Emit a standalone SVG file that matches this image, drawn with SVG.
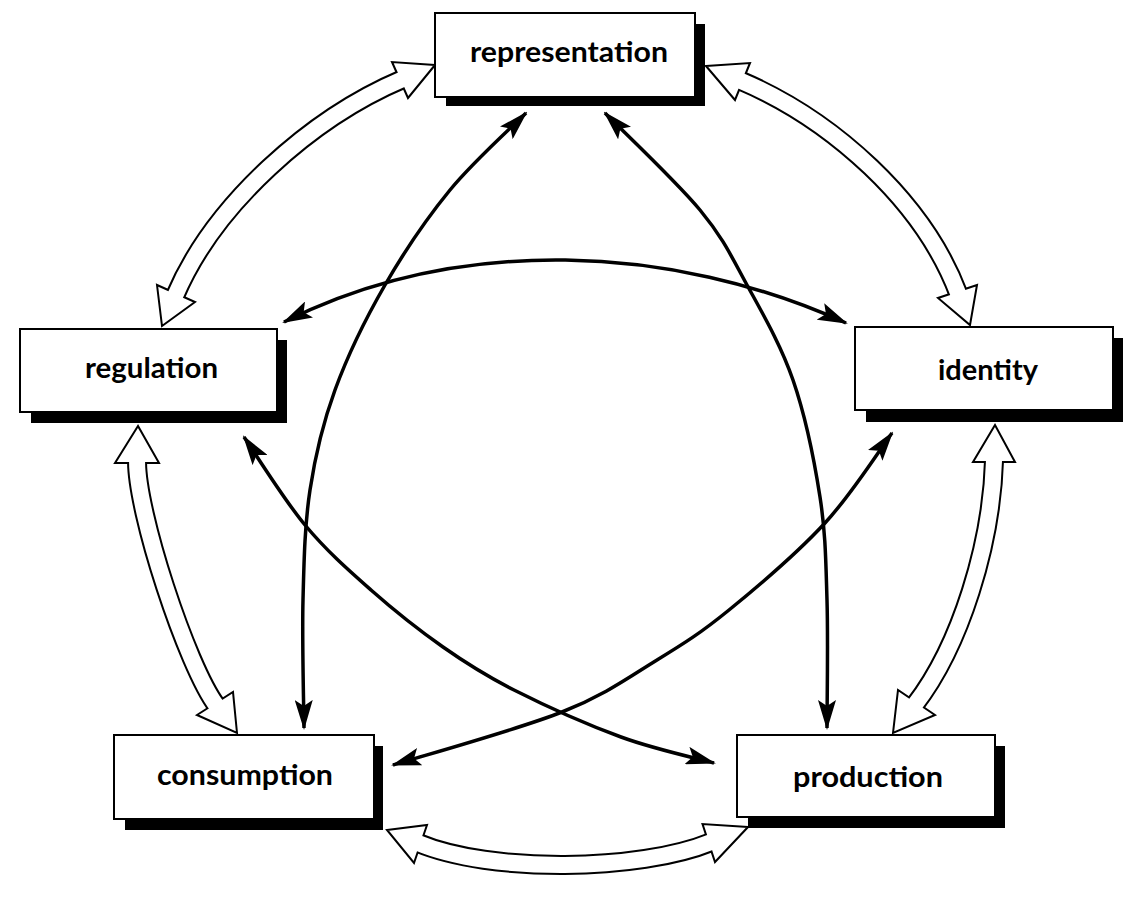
<svg xmlns="http://www.w3.org/2000/svg" width="1134" height="902" viewBox="0 0 1134 902">
<style>
.bg{fill:#fff}
.box{fill:#fff;stroke:#000;stroke-width:2}
.shadow{fill:#000}
.label{font-family:Lato,"Open Sans","Liberation Sans",sans-serif;font-weight:700;font-size:28px;fill:#000}
.conn{fill:none;stroke:#000;stroke-width:3.5;marker-start:url(#ah);marker-end:url(#ah)}
.bo{fill:none;stroke:#000;stroke-width:20}
.bi{fill:none;stroke:#fff;stroke-width:16}
.head{fill:#fff;stroke:#000;stroke-width:2;stroke-linejoin:miter}
</style>
<defs>
<marker id="ah" viewBox="0 0 30 18" markerWidth="30" markerHeight="18" markerUnits="userSpaceOnUse" refX="28" refY="9" orient="auto-start-reverse">
<path d="M0,0 L30,9 L0,18 L6,9 z" fill="#000"/>
</marker>
</defs>
<rect class="bg" x="0" y="0" width="1134" height="902"/>
<g id="connectors">
<g id="hollow-rep-reg">
<path class="bo" d="M403,79 C311,118 214,204 175,296"/>
<polygon class="head" points="435,65 392,62 408,98"/>
<polygon class="head" points="162,326 157,285 195,302"/>
<path class="bi" d="M403,79 C311,118 214,204 175,296"/>
</g>
<g id="hollow-rep-id">
<path class="bo" d="M739.7,80.3 C831.7,119.3 923.5,200.7 958.5,294.3"/>
<polygon class="head" points="706,66 750,63 735,100"/>
<polygon class="head" points="970,325 977,285 938,298"/>
<path class="bi" d="M739.7,80.3 C831.7,119.3 923.5,200.7 958.5,294.3"/>
</g>
<g id="hollow-reg-cons">
<path class="bo" d="M137.1,460 C135.7,510 186.9,666.3 216.8,705.9"/>
<polygon class="head" points="138,426 115,463 159,463"/>
<polygon class="head" points="237,733 233,692 197,715"/>
<path class="bi" d="M137.1,460 C135.7,510 186.9,666.3 216.8,705.9"/>
</g>
<g id="hollow-id-prod">
<path class="bo" d="M994.1,459 C991.7,544 960.5,645.6 914.7,704.9"/>
<polygon class="head" points="995,425 973,462 1015,462"/>
<polygon class="head" points="893,733 898,690 935,715"/>
<path class="bi" d="M994.1,459 C991.7,544 960.5,645.6 914.7,704.9"/>
</g>
<g id="hollow-cons-prod">
<path class="bo" d="M417.7,842.8 C490.6,873.3 638.4,871.8 711.6,841.9"/>
<polygon class="head" points="387,830 427,825 414,863"/>
<polygon class="head" points="748,827 702.5,824 715,862"/>
<path class="bi" d="M417.7,842.8 C490.6,873.3 638.4,871.8 711.6,841.9"/>
</g>
<path id="rep-cons" class="conn" d="M526,113 C513.3,125.8 473.5,161.3 450,190 C426.5,218.7 404.2,251.7 385,285 C365.8,318.3 347.5,355.8 335,390 C322.5,424.2 315.3,455 310,490 C304.7,525 304,560.3 303,600 C302,639.7 303.8,706.7 304,728"/>
<path id="rep-prod" class="conn" d="M605,113 C620.8,129.2 676.3,181.3 700,210 C723.7,238.7 731.5,256.7 747,285 C762.5,313.3 780.8,344.7 793,380 C805.2,415.3 814.3,460.3 820,497 C825.7,533.7 825.8,561.5 827,600 C828.2,638.5 827,706.7 827,728"/>
<path id="reg-id" class="conn" d="M284,322 C459,234.5 672,244 846,323"/>
<path id="reg-prod" class="conn" d="M244,437 C254.2,451.7 283.8,499.5 305,525 C326.2,550.5 348,569.7 371,590 C394,610.3 419.2,630.3 443,647 C466.8,663.7 484.3,675 514,690 C543.7,705 587.7,724.8 621,737 C654.3,749.2 698.5,758.7 714,763"/>
<path id="cons-id" class="conn" d="M393,765 C421.2,756.2 518,729.5 562,712 C606,694.5 629.2,677 657,660 C684.8,643 701,632.8 729,610 C757,587.2 797.8,552.5 825,523 C852.2,493.5 880.8,448 892,433"/>
</g>
<g id="node-representation">
<rect class="shadow" x="446" y="24" width="259" height="82"/>
<rect class="box" x="435" y="13" width="260" height="84"/>
<text class="label" x="569" y="62" text-anchor="middle" textLength="198" lengthAdjust="spacingAndGlyphs">representation</text>
</g>
<g id="node-regulation">
<rect class="shadow" x="31" y="340" width="256" height="83"/>
<rect class="box" x="20" y="329" width="257" height="83"/>
<text class="label" x="151.5" y="378" text-anchor="middle" textLength="133" lengthAdjust="spacingAndGlyphs">regulation</text>
</g>
<g id="node-identity">
<rect class="shadow" x="866" y="338" width="257" height="84"/>
<rect class="box" x="855" y="327" width="258" height="83"/>
<text class="label" x="988" y="380" text-anchor="middle" textLength="100" lengthAdjust="spacingAndGlyphs">identity</text>
</g>
<g id="node-consumption">
<rect class="shadow" x="125" y="746" width="258" height="84"/>
<rect class="box" x="114" y="735" width="260" height="84"/>
<text class="label" x="245" y="785" text-anchor="middle" textLength="176" lengthAdjust="spacingAndGlyphs">consumption</text>
</g>
<g id="node-production">
<rect class="shadow" x="748" y="746" width="257" height="82"/>
<rect class="box" x="737" y="735" width="258" height="82"/>
<text class="label" x="868" y="787" text-anchor="middle" textLength="150" lengthAdjust="spacingAndGlyphs">production</text>
</g>
</svg>
